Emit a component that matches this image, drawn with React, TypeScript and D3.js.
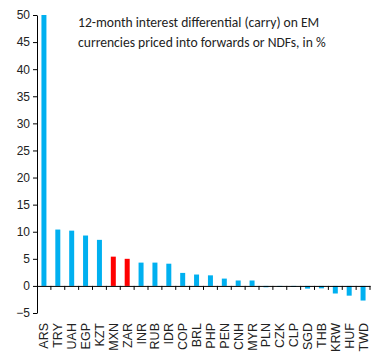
import React, { useRef, useEffect } from 'react';
import * as d3 from 'd3';

const currencies = ['ARS', 'TRY', 'UAH', 'EGP', 'KZT', 'MXN', 'ZAR', 'INR', 'RUB', 'IDR', 'COP', 'BRL',
  'PHP', 'PEN', 'CNH', 'MYR', 'PLN', 'CZK', 'CLP', 'SGD', 'THB', 'KRW', 'HUF', 'TWD'];
const carry = [50, 10.4, 10.2, 9.3, 8.5, 5.4, 5.0, 4.3, 4.3, 4.1, 2.4, 2.1,
  1.95, 1.35, 1.0, 1.0, -0.25, -0.2, -0.2, -0.5, -0.45, -1.4, -1.8, -2.7];
const highlighted = ['MXN', 'ZAR'];
const yTicks = [-5, 0, 5, 10, 15, 20, 25, 30, 35, 40, 45, 50];
const titleLines = ['12-month interest differential (carry) on EM', 'currencies priced into forwards or NDFs, in %'];

const App = () => {
  const ref = useRef<SVGSVGElement | null>(null);

  useEffect(() => {
    const svg = d3.select(ref.current);
    svg.selectAll('*').remove();

    const left = 37, right = 370, top = 15, bottom = 313;

    const x = d3.scaleBand().domain(currencies).range([left, right]).paddingInner(0).paddingOuter(0);
    const y = d3.scaleLinear().domain([-5, 50]).range([bottom, top]);

    // y axis
    const yAxis = svg.append('g')
      .attr('transform', `translate(${left},0)`)
      .call(d3.axisLeft(y).tickValues(yTicks).tickSize(4).tickSizeOuter(0));
    yAxis.select('.domain').attr('stroke', '#000');
    yAxis.selectAll('text')
      .attr('font-family', 'Liberation Sans, Arial, sans-serif')
      .attr('font-size', 12)
      .attr('fill', '#222')
      .attr('x', -7);

    // bars
    svg.selectAll('.bar')
      .data(currencies)
      .enter()
      .append('rect')
      .attr('x', (d) => (x(d) as number) + x.bandwidth() * 0.32)
      .attr('width', x.bandwidth() * 0.36)
      .attr('y', (d, i) => y(Math.max(0, carry[i])))
      .attr('height', (d, i) => Math.abs(y(carry[i]) - y(0)))
      .attr('fill', (d) => highlighted.includes(d) ? '#FF0000' : '#00B0F0');

    // x axis at zero
    const xAxis = svg.append('g')
      .attr('transform', `translate(0,${y(0)})`)
      .call(d3.axisBottom(x).tickSize(0).tickFormat(() => ''));
    xAxis.select('.domain').attr('stroke', '#000');
    xAxis.selectAll('.tick').remove();

    const bounds = currencies.map((d) => x(d) as number).concat([right]).slice(1);
    svg.append('g').selectAll('line')
      .data(bounds)
      .enter()
      .append('line')
      .attr('x1', (d) => d).attr('x2', (d) => d)
      .attr('y1', y(0)).attr('y2', y(0) + 4)
      .attr('stroke', '#000');

    // category labels
    svg.append('g').selectAll('text')
      .data(currencies)
      .enter()
      .append('text')
      .attr('transform', (d) => `translate(${(x(d) as number) + x.bandwidth() / 2 + 4.5},323) rotate(-90)`)
      .attr('text-anchor', 'end')
      .attr('font-family', 'Liberation Sans, Arial, sans-serif')
      .attr('font-size', 12.5)
      .attr('fill', '#222')
      .text((d) => d);

    // title
    svg.append('g').selectAll('text')
      .data(titleLines)
      .enter()
      .append('text')
      .attr('x', 78)
      .attr('y', (d, i) => 27 + i * 19.5)
      .attr('font-family', 'Carlito, Lato, "Open Sans", sans-serif')
      .attr('font-size', 13.6)
      .attr('fill', '#222')
      .text((d) => d);
  }, []);

  return (
    <svg ref={ref} width={384} height={361}
      style={{ position: 'absolute', left: 0, top: 0, background: '#fff' }} />
  );
};

export default App;
